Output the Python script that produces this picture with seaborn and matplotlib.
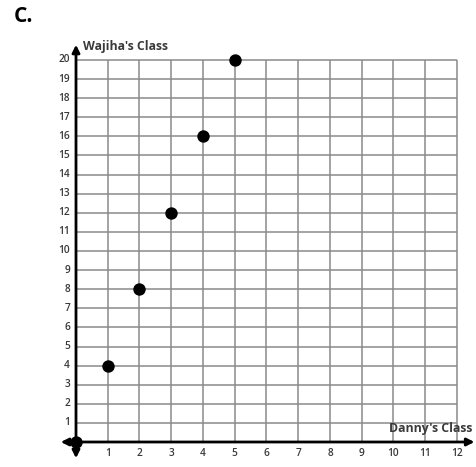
import matplotlib
matplotlib.use("Agg")
import matplotlib.pyplot as plt
import seaborn as sns
import pandas as pd

sns.set_theme(style="white")
plt.rcParams['font.family'] = ['Open Sans', 'DejaVu Sans']

danny = [0, 1, 2, 3, 4, 5]
wajiha = [0, 4, 8, 12, 16, 20]
x_ticks = list(range(1, 13))
y_ticks = list(range(1, 21))
x_label = "Danny's Class"
y_label = "Wajiha's Class"
panel = "C."

df = pd.DataFrame({"Danny": danny, "Wajiha": wajiha})

W, H = 477, 467
fig = plt.figure(figsize=(W / 100, H / 100), dpi=100)
ax = fig.add_axes([0, 0, 1, 1])
ox, oy, sx, sy = 76.0, 442.0, 31.75, 19.1
ax.set_xlim(-ox / sx, (W - ox) / sx)
ax.set_ylim(-(H - oy) / sy, oy / sy)
ax.axis("off")

xmax, ymax = max(x_ticks), max(y_ticks)
ax.vlines(x_ticks, 0, ymax, color="#8a8a8a", lw=1.1, zorder=1)
ax.hlines(y_ticks, 0, xmax, color="#8a8a8a", lw=1.1, zorder=1)

# axes with arrows
ax.annotate("", xy=(xmax + 0.55, 0), xytext=(-0.48, 0),
            arrowprops=dict(arrowstyle="<|-|>", color="black", lw=2, mutation_scale=11,
                            shrinkA=0, shrinkB=0), zorder=3)
ax.annotate("", xy=(0, ymax + 0.8), xytext=(0, -0.85),
            arrowprops=dict(arrowstyle="<|-|>", color="black", lw=2, mutation_scale=11,
                            shrinkA=0, shrinkB=0), zorder=3)

for t in x_ticks:
    ax.text(t, -0.6, str(t), ha="center", va="center", fontsize=7.3,
            color="#3a3a3a", fontweight="semibold")
for t in y_ticks:
    ax.text(-0.19, t, str(t), ha="right", va="center", fontsize=7.3,
            color="#3a3a3a", fontweight="semibold")

ax.text(0.22, ymax + 0.7, y_label, ha="left", va="center", fontsize=8.8,
        color="#3a3a3a", fontweight="bold")
ax.text(xmax + 0.5, 0.72, x_label, ha="right", va="center", fontsize=8.8,
        color="#3a3a3a", fontweight="bold")

sns.scatterplot(data=df, x="Danny", y="Wajiha", ax=ax, color="black", s=80,
                edgecolor="black", linewidth=0, zorder=4, clip_on=False, legend=False)

fig.text(14 / W, 1 - 16 / H, panel, ha="left", va="center", fontsize=15,
         fontweight="bold", color="black")

fig.savefig("out.png", dpi=100)
